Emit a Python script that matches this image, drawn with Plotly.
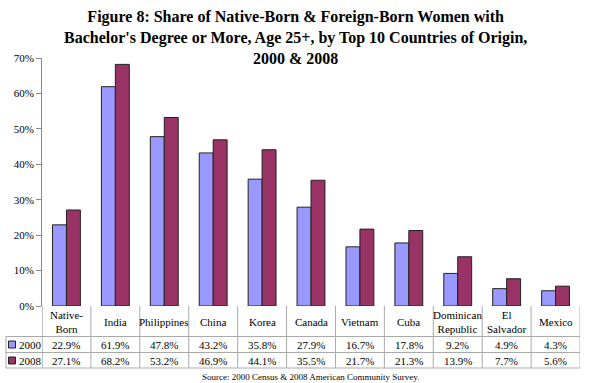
import plotly.graph_objects as go

categories = ["Native-Born", "India", "Philippines", "China", "Korea", "Canada",
              "Vietnam", "Cuba", "Dominican Republic", "El Salvador", "Mexico"]
header_labels = ["Native-<br>Born", "India", "Philippines", "China", "Korea", "Canada",
                 "Vietnam", "Cuba", "Dominican<br>Republic", "El<br>Salvador", "Mexico"]
values_2000 = [22.9, 61.9, 47.8, 43.2, 35.8, 27.9, 16.7, 17.8, 9.2, 4.9, 4.3]
values_2008 = [27.1, 68.2, 53.2, 46.9, 44.1, 35.5, 21.7, 21.3, 13.9, 7.7, 5.6]
series_names = ["2000", "2008"]
series_colors = ["#9999FF", "#993366"]
y_ticks = [0, 10, 20, 30, 40, 50, 60, 70]
title_text = ("<b>Figure 8: Share of Native-Born & Foreign-Born Women with<br>"
              "Bachelor's Degree or More, Age 25+, by Top 10 Countries of Origin,<br>"
              "2000 & 2008</b>")
source_text = "Source: 2000 Census & 2008 American Community Survey."

W, H = 590, 383
L, R, T, B = 42, 10, 58, 77
plot_h = H - T - B  # 248
plot_w = W - L - R


def py(ypx):
    return (H - B - ypx) / plot_h


def px(xpx):
    return (xpx - L) / plot_w


FONT = "Liberation Serif"

fig = go.Figure()
for name, vals, col in zip(series_names, [values_2000, values_2008], series_colors):
    fig.add_trace(go.Bar(
        x=categories, y=vals, name=name,
        marker=dict(color=col, line=dict(color="#222222", width=1)),
        showlegend=False,
    ))

shapes = []
annotations = []
line_col = "#AAAAAA"
# horizontal table lines
for ypx in [336.5, 352.5, 368]:
    shapes.append(dict(type="line", xref="paper", yref="paper",
                       x0=px(6), x1=1, y0=py(ypx), y1=py(ypx),
                       line=dict(color=line_col, width=1)))
# left border of legend column
shapes.append(dict(type="line", xref="paper", yref="paper",
                   x0=px(6), x1=px(6), y0=py(336.5), y1=py(368),
                   line=dict(color=line_col, width=1)))
# vertical lines at category boundaries
n = len(categories)
for i in range(n + 1):
    shapes.append(dict(type="line", xref="x", yref="paper",
                       x0=i - 0.5, x1=i - 0.5, y0=0, y1=py(368),
                       line=dict(color=line_col if i > 0 else "#888888", width=1)))

# header labels
for c, lab in zip(categories, header_labels):
    annotations.append(dict(xref="x", yref="paper", x=c, y=py(321.5), text=lab,
                            showarrow=False, font=dict(family=FONT, size=11, color="#000"),
                            xanchor="center", yanchor="middle"))
# value rows
row_centers = [344.5, 360.5]
for vals, yc in zip([values_2000, values_2008], row_centers):
    for c, v in zip(categories, vals):
        annotations.append(dict(xref="x", yref="paper", x=c, y=py(yc),
                                text=f"{v:.1f}%", showarrow=False,
                                font=dict(family=FONT, size=11, color="#000"),
                                xanchor="center", yanchor="middle"))
# legend keys in table
for name, col, yc in zip(series_names, series_colors, row_centers):
    shapes.append(dict(type="rect", xref="paper", yref="paper",
                       x0=px(8.5), x1=px(15.5), y0=py(yc + 3.5), y1=py(yc - 3.5),
                       fillcolor=col, line=dict(color="#222222", width=1)))
    annotations.append(dict(xref="paper", yref="paper", x=px(16.5), y=py(yc),
                            text=name, showarrow=False,
                            font=dict(family=FONT, size=11, color="#000"),
                            xanchor="left", yanchor="middle"))

# source
annotations.append(dict(xref="paper", yref="paper", x=px(310), y=py(377),
                        text=source_text, showarrow=False, borderpad=0,
                        font=dict(family=FONT, size=9, color="#000"),
                        xanchor="center", yanchor="middle"))
# title
annotations.append(dict(xref="paper", yref="paper", x=px(295), y=py(7),
                        text=title_text, showarrow=False, borderpad=0,
                        font=dict(family=FONT, size=16, color="#000"),
                        xanchor="center", yanchor="top", align="center"))

fig.update_layout(
    width=W, height=H,
    margin=dict(l=L, r=R, t=T, b=B, pad=0),
    paper_bgcolor="white", plot_bgcolor="white",
    barmode="group", bargap=0.43, bargroupgap=0,
    shapes=shapes, annotations=annotations,
    font=dict(family=FONT, size=11, color="#000"),
)
fig.update_xaxes(showticklabels=False, showline=False, showgrid=False, zeroline=False,
                 range=[-0.5, n - 0.5])
fig.update_yaxes(range=[0, 70], tickvals=y_ticks, ticktext=[f"{t}%" for t in y_ticks],
                 showgrid=False, zeroline=False, showline=True, linecolor="#888888",
                 linewidth=1, ticks="outside", ticklen=5, tickcolor="#888888",
                 tickfont=dict(family=FONT, size=11, color="#000"))

fig.write_html("out.html", config={"displayModeBar": False},
               post_script="document.body.style.margin='0px';document.body.style.padding='0px';")
